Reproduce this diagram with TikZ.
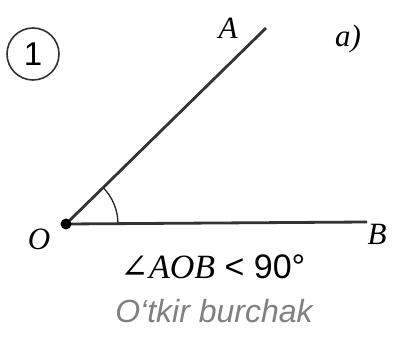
\documentclass[tikz,border=0pt]{standalone}
\usepackage{fontspec}
\usetikzlibrary{calc}
\setmainfont{Liberation Serif}
\setsansfont{Liberation Sans}
\newfontfamily\symfont{DejaVu Serif}
\begin{document}
\begin{tikzpicture}[x=1pt,y=-1pt,
  ray/.style={draw=black!80,line width=2.8pt},
  lbl/.style={font=\fontsize{31}{31}\selectfont\itshape,inner sep=0pt}]
\useasboundingbox[fill=white] (0,0) rectangle (417,347);
\coordinate (O) at (66,224);
\coordinate (A) at (266,28);
\coordinate (B) at (367,222);
\draw[ray] (O) -- (A);
\draw[ray] (O) -- (B);
\draw[line width=1.3pt,black!85] ($(O)+(52,0)$) arc[start angle=0,end angle=-44.4,radius=52];
\fill[black] (O) circle[radius=5.5];
\node[lbl] (la) at (228,28) {A};
\node[lbl] (lo) at (39,239) {O};
\node[lbl] (lb) at (377,234) {B};
\node[lbl] (lab) at (348,39) {a)};
\node[draw=black!80,line width=1.6pt,circle,minimum size=52pt,inner sep=0pt,font=\fontsize{33}{33}\selectfont\sffamily] (one) at (33,54) {1};
\node[inner sep=0pt,anchor=base] (ang) at (213,278) {\fontsize{34}{34}\selectfont\symfont\upshape∠\rmfamily\itshape AOB\sffamily\upshape{} < 90°};
\node[inner sep=0pt,anchor=base,text=black!50,font=\fontsize{32}{32}\selectfont\sffamily\itshape] (txt) at (214,322) {O‘tkir burchak};
\end{tikzpicture}
\end{document}
